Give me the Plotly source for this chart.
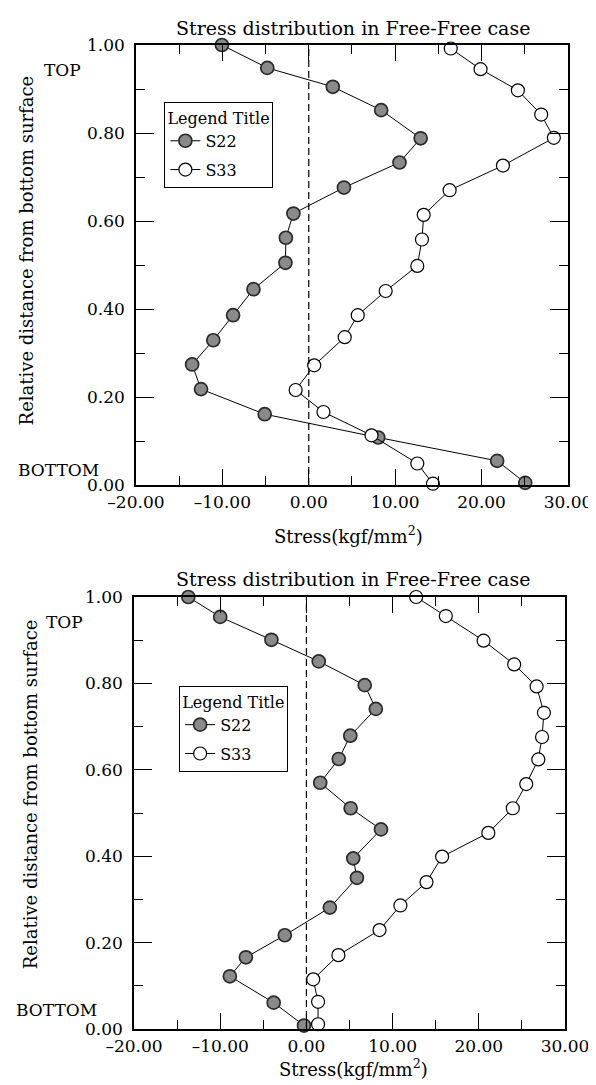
import plotly.graph_objects as go

# ---------------- data ----------------
x_tick_vals = [-20, -10, 0, 10, 20, 30]
x_tick_labels = ["\u201320.00", "\u201310.00", "0.00", "10.00", "20.00", "30.00"]
y_tick_vals = [0.0, 0.2, 0.4, 0.6, 0.8, 1.0]
y_tick_labels = ["0.00", "0.20", "0.40", "0.60", "0.80", "1.00"]

# top chart
top_y_s22 = [1.000, 0.948, 0.905, 0.852, 0.788, 0.733, 0.676, 0.617, 0.562, 0.505,
             0.445, 0.386, 0.329, 0.274, 0.218, 0.161, 0.108, 0.055, 0.005]
top_s22 = [-10.05, -4.8, 2.78, 8.38, 12.95, 10.5, 4.07, -1.78, -2.65, -2.7,
           -6.4, -8.76, -11.05, -13.5, -12.47, -5.1, 8.04, 21.8, 25.05]
top_y_s33 = [0.992, 0.945, 0.897, 0.842, 0.789, 0.726, 0.670, 0.614, 0.558, 0.498,
             0.441, 0.386, 0.336, 0.272, 0.216, 0.166, 0.113, 0.049, 0.003]
top_s33 = [16.43, 19.88, 24.2, 26.9, 28.36, 22.47, 16.3, 13.3, 13.1, 12.56,
           8.9, 5.67, 4.16, 0.63, -1.52, 1.7, 7.26, 12.56, 14.37]

# bottom chart
bot_y_s22 = [1.000, 0.954, 0.901, 0.851, 0.796, 0.741, 0.679, 0.625, 0.570, 0.511,
             0.462, 0.395, 0.350, 0.281, 0.217, 0.166, 0.122, 0.061, 0.008]
bot_s22 = [-13.7, -10.0, -4.06, 1.43, 6.76, 8.05, 5.09, 3.75, 1.6, 5.13,
           8.65, 5.43, 5.86, 2.72, -2.51, -7.02, -8.88, -3.8, -0.28]
bot_y_s33 = [1.000, 0.956, 0.899, 0.844, 0.793, 0.732, 0.676, 0.624, 0.567, 0.511,
             0.454, 0.399, 0.340, 0.286, 0.229, 0.171, 0.115, 0.063, 0.011]
bot_s33 = [12.73, 16.17, 20.55, 24.1, 26.7, 27.55, 27.33, 26.9, 25.5, 23.94,
           21.1, 15.74, 13.93, 10.9, 8.48, 3.71, 0.79, 1.35, 1.35]

series_names = ["S22", "S33"]
chart_title = "Stress distribution in Free-Free case"
x_title = "Stress(kgf/mm<sup>2</sup>)"
y_title = "Relative distance from bottom surface"
legend_title = "Legend Title"

# ---------------- styling ----------------
FONT = "DejaVu Serif"
s22_marker = dict(size=13, color="#8a8a8a", line=dict(color="#2a2a2a", width=1.7))
s33_marker = dict(size=13, color="white", line=dict(color="black", width=1.2))
line_style = dict(color="black", width=1)

fig = go.Figure()

fig.add_trace(go.Scatter(x=top_s22, y=top_y_s22, mode="lines+markers", name=series_names[0],
                         marker=s22_marker, line=line_style, cliponaxis=False,
                         xaxis="x", yaxis="y", legend="legend", legendgroup="a"))
fig.add_trace(go.Scatter(x=top_s33, y=top_y_s33, mode="lines+markers", name=series_names[1],
                         marker=s33_marker, line=line_style, cliponaxis=False,
                         xaxis="x", yaxis="y", legend="legend", legendgroup="b"))
fig.add_trace(go.Scatter(x=bot_s22, y=bot_y_s22, mode="lines+markers", name=series_names[0],
                         marker=s22_marker, line=line_style, cliponaxis=False,
                         xaxis="x2", yaxis="y2", legend="legend2", legendgroup="c"))
fig.add_trace(go.Scatter(x=bot_s33, y=bot_y_s33, mode="lines+markers", name=series_names[1],
                         marker=s33_marker, line=line_style, cliponaxis=False,
                         xaxis="x2", yaxis="y2", legend="legend2", legendgroup="d"))

tickfont = dict(family=FONT, size=17, color="black")


def xaxis(domain, anchor):
    return dict(domain=domain, anchor=anchor, range=[-20, 30],
                tickvals=x_tick_vals, ticktext=x_tick_labels,
                ticks="inside", ticklen=16, tickwidth=1, tickcolor="black",
                minor=dict(dtick=5, tick0=-20, ticks="inside", ticklen=9, tickwidth=1, tickcolor="black"),
                showline=True, linecolor="black", linewidth=1.5, mirror="ticks",
                showgrid=False, zeroline=False, tickfont=tickfont, ticklabelstandoff=1)


def yaxis(domain, anchor):
    return dict(domain=domain, anchor=anchor, range=[0, 1],
                tickvals=y_tick_vals, ticktext=y_tick_labels,
                ticks="inside", ticklen=18, tickwidth=1, tickcolor="black",
                minor=dict(dtick=0.1, tick0=0, ticks="inside", ticklen=9, tickwidth=1, tickcolor="black"),
                showline=True, linecolor="black", linewidth=1.5, mirror="ticks",
                showgrid=False, zeroline=False, tickfont=tickfont, ticklabelstandoff=6)


legend_common = dict(
    bgcolor="white", bordercolor="black", borderwidth=1,
    font=dict(family=FONT, size=16, color="black"),
    title=dict(text=legend_title, font=dict(family=FONT, size=16, color="black")),
    xanchor="left", yanchor="top", tracegroupgap=5, itemwidth=30,
)

# plot area: x 126..570, y 37..1021 (984 px tall)
fig.update_layout(
    width=596, height=1085,
    margin=dict(l=126, r=26, t=37, b=64),
    paper_bgcolor="white", plot_bgcolor="white",
    font=dict(family=FONT, color="black"),
    showlegend=True,
    xaxis=xaxis([0.0045, 1.0], "y"),
    yaxis=yaxis([0.5528, 1.0], "x"),
    xaxis2=xaxis([0.0, 0.9932], "y2"),
    yaxis2=yaxis([0.0, 0.439], "x2"),
    legend=dict(x=0.07, y=0.942, **legend_common),
    legend2=dict(x=0.104, y=0.3486, **legend_common),
)

# dashed zero lines
for xr, yr in (("x", "y domain"), ("x2", "y2 domain")):
    fig.add_shape(type="line", xref=xr, yref=yr, x0=0, x1=0, y0=0, y1=1,
                  line=dict(color="black", width=1.2, dash="7px,4px"))

ann_font = dict(family=FONT, size=19, color="black")
xt_font = dict(family=FONT, size=18, color="black")
small_font = dict(family=FONT, size=17, color="black")
annotations = [
    # titles
    dict(text=chart_title, x=0.505, y=1.0173, xref="paper", yref="paper", showarrow=False,
         xanchor="center", yanchor="middle", font=ann_font),
    dict(text=chart_title, x=0.505, y=0.4573, xref="paper", yref="paper", showarrow=False,
         xanchor="center", yanchor="middle", font=ann_font),
    # x titles
    dict(text=x_title, x=0.495, y=0.502, xref="paper", yref="paper", showarrow=False,
         xanchor="center", yanchor="middle", font=xt_font),
    dict(text=x_title, x=0.505, y=-0.0254, xref="paper", yref="paper", showarrow=False,
         xanchor="center", yanchor="top", font=xt_font),
    # y titles
    dict(text=y_title, x=-0.2455, y=0.7917, xref="paper", yref="paper", showarrow=False,
         textangle=-90, xanchor="center", yanchor="middle", font=dict(family=FONT, size=18, color="black")),
    dict(text=y_title, x=-0.239, y=0.2388, xref="paper", yref="paper", showarrow=False,
         textangle=-90, xanchor="center", yanchor="middle", font=dict(family=FONT, size=18, color="black")),
    # TOP / BOTTOM
    dict(text="TOP", x=-0.1655, y=0.943, xref="paper", yref="y", showarrow=False,
         xanchor="center", yanchor="middle", font=small_font),
    dict(text="BOTTOM", x=-0.173, y=0.035, xref="paper", yref="y", showarrow=False,
         xanchor="center", yanchor="middle", font=small_font),
    dict(text="TOP", x=-0.16, y=0.942, xref="paper", yref="y2", showarrow=False,
         xanchor="center", yanchor="middle", font=small_font),
    dict(text="BOTTOM", x=-0.178, y=0.043, xref="paper", yref="y2", showarrow=False,
         xanchor="center", yanchor="middle", font=small_font),
]
fig.update_layout(annotations=annotations)

fig.write_html("out.html")
